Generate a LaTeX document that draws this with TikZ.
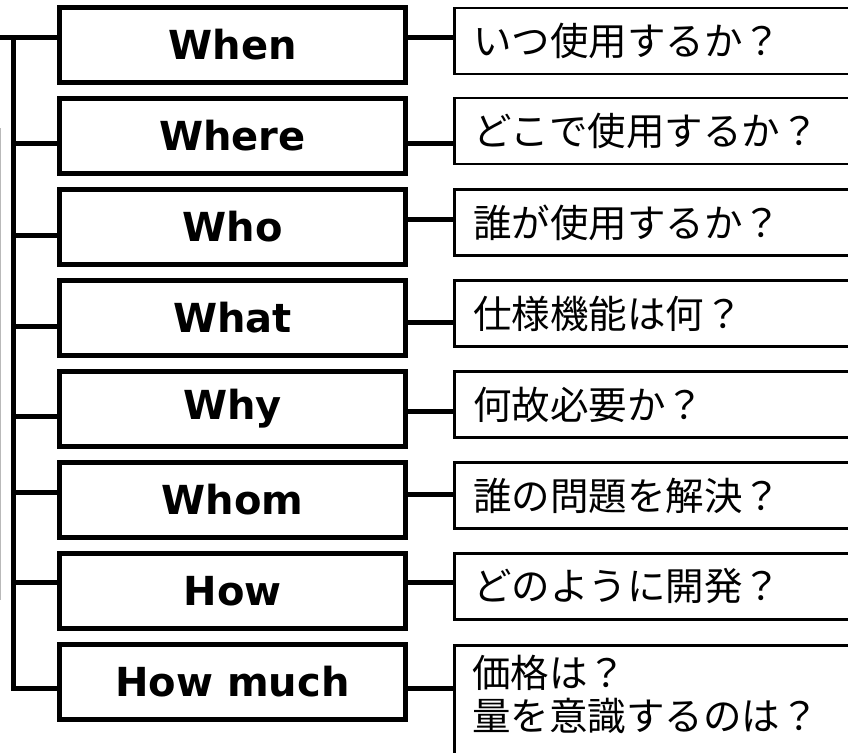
\documentclass[tikz,border=0pt]{standalone}
\usepackage{fontspec}
\setmainfont{DejaVu Sans}
\newfontfamily\jpfont{Noto Sans CJK JP}
\begin{document}
\begin{tikzpicture}[x=1pt,y=-1pt,
  lbox/.style={draw, line width=5pt, minimum width=346pt, minimum height=75pt, inner sep=0pt,
    font=\fontsize{40}{48}\selectfont\bfseries},
  rbox/.style={draw, line width=2.5pt, anchor=west, text width=380pt, inner xsep=19pt, inner ysep=0pt,
    minimum height=66pt, align=left, font=\jpfont\fontsize{38.5}{43}\selectfont},
  conn/.style={line width=5pt}]
\clip (0,0) rectangle (848,752);
\fill[white] (0,0) rectangle (848,752);
% faint edge line
\draw[gray!55, line width=1.2pt] (0.6,128) -- (0.6,600);
% left boxes
\node[lbox] (L1) at (232.5,45) {When};
\node[lbox] (L2) at (232.5,136) {Where};
\node[lbox] (L3) at (232.5,227) {Who};
\node[lbox] (L4) at (232.5,318) {What};
\node[lbox] (L5) at (232.5,409) {Why};
\node[lbox] (L6) at (232.5,500) {Whom};
\node[lbox] (L7) at (232.5,591) {How};
\node[lbox] (L8) at (232.5,682) {How much};
% right boxes
\node[rbox] (R1) at (453,41) {いつ使用するか？};
\node[rbox] (R2) at (453,131) {どこで使用するか？};
\node[rbox] (R3) at (453,222.5) {誰が使用するか？};
\node[rbox] (R4) at (453,313.5) {仕様機能は何？};
\node[rbox] (R5) at (453,404.5) {何故必要か？};
\node[rbox] (R6) at (453,495.5) {誰の問題を解決？};
\node[rbox] (R7) at (453,586.5) {どのように開発？};
\node[draw, line width=2.5pt, anchor=north west, minimum width=418pt, minimum height=140pt] (R8) at (453,644) {};
\node[anchor=west, align=left, inner sep=0pt, font=\jpfont\fontsize{38.5}{43}\selectfont] (T8) at (472,694) {価格は？\\量を意識するのは？};
% trunk
\coordinate (t1) at (13.5,38);
\coordinate (t2) at (13.5,143);
\coordinate (t3) at (13.5,235);
\coordinate (t4) at (13.5,326);
\coordinate (t5) at (13.5,416);
\coordinate (t6) at (13.5,492);
\coordinate (t7) at (13.5,582);
\coordinate (t8) at (13.5,688);
\draw[conn] (0,38) -- (t1 -| L1.west);
\draw[conn] (t1) -- (t8) -- (t8 -| L8.west);
\foreach \i in {2,...,7}{
  \draw[conn] (t\i) -- (t\i -| L\i.west);
}
% right connectors
\coordinate (c1) at (0,38);
\coordinate (c2) at (0,143);
\coordinate (c3) at (0,219);
\coordinate (c4) at (0,322);
\coordinate (c5) at (0,411);
\coordinate (c6) at (0,494);
\coordinate (c7) at (0,582);
\coordinate (c8) at (0,688);
\foreach \i in {1,...,7}{
  \draw[conn] (c\i -| L\i.east) -- (c\i -| R\i.west);
}
\draw[conn] (c8 -| L8.east) -- (c8 -| R8.west);
\end{tikzpicture}
\end{document}
